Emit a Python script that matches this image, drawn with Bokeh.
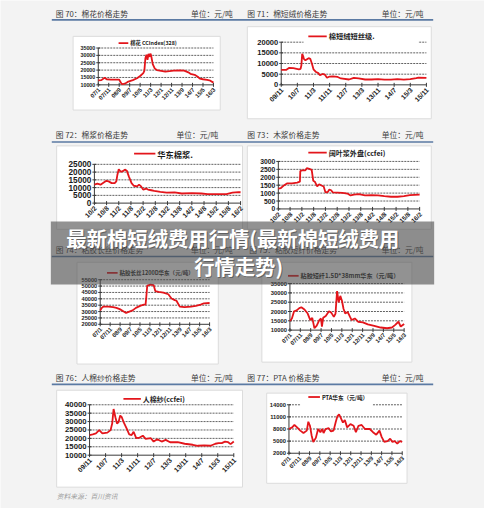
import numpy as np
from bokeh.plotting import figure
from bokeh.models import Range1d
from bokeh.core.properties import value
from bokeh.embed import file_html
from bokeh.resources import INLINE

FONT = "Liberation Sans"
CJK = "Noto Sans CJK SC"
RED = "#e3151b"
AX = "#3a3a3a"
K = 0.968  # font scale (figure 484px shows a 500px-wide page)

# ---------------- tick labels ----------------
labels_a = ["07/1", "07/11", "08/9", "09/7", "10/5", "11/3", "12/1", "12/11", "13/9", "14/7", "15/5", "16/3"]
months_a = [0, 10, 20, 30, 40, 50, 60, 70, 80, 90, 100, 110]
labels_b = ["09/11", "10/7", "11/3", "11/11", "12/7", "13/3", "13/11", "14/7", "15/3", "15/11"]
months_b = [0, 8, 16, 24, 32, 40, 48, 56, 64, 72]
labels_c = ["10/2", "10/8", "11/2", "11/8", "12/2", "12/8", "13/2", "13/8", "14/2", "14/8", "15/2", "15/8", "16/2"]
months_c = [0, 6, 12, 18, 24, 30, 36, 42, 48, 54, 60, 66, 72]

# ---------------- series ----------------
c70_m = [0, 3, 6, 8, 12, 18, 20, 22, 23, 26, 28, 33, 37, 40, 43, 44, 45, 46, 47, 48, 49, 50, 51, 52, 54, 56, 60, 64, 68, 72,
         78, 82, 86, 88, 92, 95, 97, 100, 104, 107, 110]
c70_v = [13000, 13200, 14800, 13800, 13600, 13600, 13500, 11000, 10400, 11000, 12000, 13200, 14500, 16000, 18000, 19500,
         28000, 30500, 27000, 31000, 29000, 31200, 28000, 24000, 21000, 20000, 19500, 19000, 19300, 19700, 19800, 19700,
         18500, 17500, 16800, 15500, 14200, 13800, 13300, 12800, 11500]
c70_yt = [10000, 15000, 20000, 25000, 30000, 35000]

c71_m = [0, 2.4, 4, 6, 8.8, 9.6, 10, 10.4, 10.9, 11.2, 12, 12.8, 13.6, 14.4, 15.2, 16, 17.3, 18.4, 19.2, 20.5, 21.6, 22.7,
         24, 25.6, 28, 29.6, 33.6, 36, 38.4, 41.6, 44.8, 48, 51.2, 54.4, 57.6, 60.8, 64, 67, 68, 72]
c71_v = [7000, 7000, 8000, 7800, 7300, 7500, 9200, 14500, 13400, 12200, 11500, 12000, 12500, 12200, 10000, 7300, 6000,
         5500, 4500, 5100, 4800, 3300, 3900, 4000, 3700, 3000, 2500, 3300, 3000, 2500, 2500, 2700, 2400, 2400, 2700, 2400,
         2700, 3100, 3400, 3300]
c71_yt = [0, 5000, 10000, 15000, 20000]

c72_m = [0, 1.5, 3, 4.6, 5.9, 7, 8.5, 10, 10.8, 11.3, 12, 13, 14, 15, 16, 17, 18.3, 19.4, 21, 22, 23, 24, 25.6, 26.4, 28,
         29.5, 32.5, 35.6, 39.5, 43, 48, 52.7, 55.8, 60.5, 65, 68, 71, 72]
c72_v = [11900, 12500, 11900, 13300, 14400, 14000, 12900, 12900, 14000, 18100, 21800, 20200, 20600, 21600, 20800, 17100,
         12900, 11200, 10800, 11900, 10800, 8700, 9400, 8700, 8300, 7900, 7300, 6700, 6900, 6200, 6400, 6200, 5800, 5800,
         5800, 6700, 7100, 7000]
c72_yt = [0, 5000, 10000, 15000, 20000, 25000]

c73_m = [0, 1.3, 2.6, 4.6, 7, 9.6, 11, 11.2, 12, 13.7, 14.5, 15.8, 17, 17.8, 18.6, 19.8, 20.8, 22, 23.1, 24, 25.2, 26,
         26.9, 27.7, 30.2, 32.7, 35.2, 36.8, 38.5, 41, 44.2, 47.5, 50.8, 54, 57.4, 60.7, 64, 67, 72]
c73_v = [1280, 1320, 1460, 1620, 1620, 1660, 1720, 2390, 2430, 2430, 2570, 2530, 2470, 1780, 1720, 1420, 1560, 1480, 1420,
         1050, 1070, 1220, 1180, 1050, 1030, 1010, 970, 850, 910, 930, 850, 870, 850, 810, 770, 770, 810, 870, 910]
c73_yt = [0, 500, 1000, 1500, 2000, 2500, 3000]

c74_m = [0, 1.6, 3.3, 8.2, 13, 16.3, 19.6, 22.8, 26, 29.3, 32.6, 35.9, 40.7, 44, 45.6, 46.3, 47.3, 50.5, 53.8, 55.4, 58.7,
         63.6, 68.5, 71.7, 75, 76.7, 80, 84.8, 91.3, 96.2, 101, 104.3, 110]
c74_v = [30900, 32900, 33900, 33900, 33400, 32900, 31900, 30400, 28900, 29900, 30900, 32900, 34700, 35500, 35500, 41000,
         50400, 51200, 50700, 46100, 45400, 44900, 43600, 40300, 39000, 38500, 33900, 33400, 33900, 34500, 35500, 36500,
         36700]
c74_yt = [20000, 25000, 30000, 35000, 40000, 45000, 50000, 55000]

c75_m = [0, 1.9, 4, 6.5, 9, 11, 14, 17.1, 19.6, 21.5, 23.6, 25.8, 28.3, 29.9, 30.8, 32, 34.5, 37.6, 39.8, 42.3, 43.9, 45.4,
         47, 48.5, 50.1, 51.6, 53.2, 55.7, 57.9, 59.4, 62.5, 65.6, 70.3, 75, 81.2, 87.4, 93.6, 98.3, 101.4, 104.5, 106.7, 110]
c75_v = [14900, 16250, 20100, 20600, 21800, 22300, 21100, 18900, 15400, 16600, 11000, 12400, 15400, 16250, 11900, 16600,
         17600, 20100, 19400, 17100, 18900, 31000, 24900, 28400, 25800, 21500, 18900, 19700, 17100, 15400, 16250, 14500,
         14200, 13100, 12300, 11400, 11000, 11400, 12800, 14500, 11900, 13300]
c75_yt = [10000, 15000, 20000, 25000, 30000, 35000]

c76_m = [0, 1.6, 3.2, 4.8, 6.4, 8.9, 10.5, 11.3, 12, 12.9, 13.7, 14.5, 15.3, 16.1, 17, 18.5, 19.8, 21, 22, 23.3, 25, 26.6,
         28, 30.6, 32, 33.8, 36, 38, 40.2, 44, 47.5, 51.5, 54, 57.2, 60.4, 62.8, 64.4, 66, 67.6, 69.2, 70.4, 72]
c76_v = [22000, 22400, 23000, 24900, 23000, 23400, 24900, 28800, 37500, 32600, 28800, 29700, 33600, 32600, 29700, 25900,
         22400, 22000, 23900, 20100, 20500, 21600, 19700, 20100, 18100, 19500, 18100, 19100, 17700, 17700, 16800, 16200,
         15600, 15800, 15600, 16800, 17200, 17200, 18100, 17700, 16600, 18100]
c76_yt = [10000, 15000, 20000, 25000, 30000, 35000, 40000]

c77_m = [0, 3.1, 5.3, 7.9, 11, 14.1, 17.3, 18.8, 20.4, 22, 23.6, 26.1, 28.3, 30.5, 32.3, 33.6, 35.5, 38.6, 40.8, 43.3,
         45.5, 47.1, 48.7, 50.2, 52.4, 54.3, 56.5, 59.7, 62.8, 65, 67.5, 70.6, 73.8, 78.5, 81.6, 84.8, 87.9, 90.1, 92.6,
         95.8, 98.3, 100.5, 102.7, 105.2, 107.7, 110]
c77_v = [8000, 8400, 9000, 8400, 7600, 7000, 7600, 9800, 8800, 6400, 4800, 5800, 8000, 7200, 8000, 7000, 8000, 8200, 7400,
         7600, 9800, 11200, 11600, 10800, 9600, 10200, 8400, 9200, 8800, 7200, 8800, 9000, 8000, 8000, 7200, 6600, 7600,
         6000, 4800, 5000, 5600, 4800, 5000, 4400, 5000, 4800]
c77_yt = [2000, 5000, 8000, 11000, 14000]

headers = [
    ("图 70：棉花价格走势", 57, 13), ("图 71：棉短绒价格走势", 255, 13),
    ("图 72：棉浆价格走势", 57, 138), ("图 73：木浆价格走势", 255, 138),
    ("图 74：粘胶长丝价格走势", 57, 257), ("图 75：粘胶短纤价格走势", 257, 257),
    ("图 76：人棉纱价格走势", 57, 389), ("图 77：PTA 价格走势", 255, 389),
]
units = [(240, 13), (437, 13), (225, 138), (437, 138), (240, 257), (437, 257), (240, 389), (437, 389)]
rule_y = [20, 146, 264, 396]


def px(v):
    return f"{v * K:.2f}px"


# ---------------- canvas (page coordinates of the 500x524 sheet) ----------------
p = figure(width=484, height=508, x_range=Range1d(0, 500), y_range=Range1d(524, 0),
           output_backend="svg", toolbar_location=None, min_border=0,
           x_axis_location=None, y_axis_location=None)
p.grid.visible = False
p.outline_line_color = None
p.background_fill_color = "#f3f3f3"
p.border_fill_color = "#f3f3f3"

# chart boxes
boxes = [(75, 227, 37, 113), (255, 445, 27, 122), (58, 250, 150, 236), (255, 445, 150, 236),
         (79, 225, 270, 375), (270, 425, 270, 373), (58, 250, 402, 502), (275, 420, 405, 498)]
p.quad(left=[b[0] for b in boxes], right=[b[1] for b in boxes], top=[b[2] for b in boxes],
       bottom=[b[3] for b in boxes], fill_color="white", line_color="#dcdcdc", line_width=1)

# headers
p.text(x=[h[1] for h in headers], y=[h[2] for h in headers], text=[h[0] for h in headers],
       text_font=value(CJK), text_font_size=px(8), text_baseline="middle", text_color="#3c3c3c")
p.text(x=[u[0] for u in units], y=[u[1] for u in units], text=["单位：元/吨"] * 8,
       text_font=value(CJK), text_font_size=px(8), text_baseline="middle", text_align="right", text_color="#3c3c3c")
p.segment(x0=[53] * 4, y0=rule_y, x1=[447] * 4, y1=rule_y, line_color="#5b7aa3", line_width=1.6)


def panel(mx, vals, tx, tlab, yt, area, fs, xfs, leg, mask=None):
    l, r, t, b = area
    xlo, xhi = tx[0], tx[-1]
    ylo, yhi = yt[0], yt[-1]
    s = p.subplot(x_source=Range1d(xlo, xhi), y_source=Range1d(ylo, yhi),
                  x_target=Range1d(l, r), y_target=Range1d(b, t))
    n = len(yt)
    s.segment(x0=[xlo] * (n - 1), y0=yt[1:], x1=[xhi] * (n - 1), y1=yt[1:],
              line_color=AX, line_dash="2 1", line_width=0.8)
    if mask is not None:
        p.quad(left=[mask[0]], right=[mask[1]], top=[mask[2]], bottom=[mask[3]],
               fill_color="white", line_color=None)
    s.segment(x0=[xlo, xlo], y0=[ylo, ylo], x1=[xlo, xhi], y1=[yhi, ylo], line_color=AX, line_width=1)
    s.scatter(x=[xlo] * n, y=yt, marker="dash", size=4, line_color=AX)
    s.scatter(x=tx, y=[ylo] * len(tx), marker="dash", angle=np.pi / 2, size=4, line_color=AX)
    s.text(x=[xlo] * n, y=yt, text=[str(v) for v in yt], x_offset=-3, text_align="right",
           text_baseline="middle", text_font=value(FONT), text_font_size=px(fs),
           text_font_style="bold", text_color="#1a1a1a")
    s.text(x=tx, y=[ylo] * len(tx), text=tlab, angle=np.pi / 4, x_offset=1, y_offset=4,
           text_align="right", text_baseline="middle", text_font=value(FONT),
           text_font_size=px(xfs), text_font_style="bold", text_color="#1a1a1a")
    s.line(mx, vals, line_color=RED, line_width=1.8)
    lx0, lx1, ly, ltxt, lfs = leg
    p.segment(x0=[lx0], y0=[ly], x1=[lx1], y1=[ly], line_color=RED, line_width=1.8)
    p.text(x=[lx1 + 2], y=[ly], text=[ltxt], text_font=value(CJK), text_font_size=px(lfs),
           text_baseline="middle", text_font_style="bold", text_color="#1a1a1a")


panel(c70_m, c70_v, months_a, labels_a, c70_yt, (101, 220, 49, 87), 5.5, 6,
      (122, 132, 44, "棉花 CCIndex(328)", 5.5))
panel(c71_m, c71_v, months_b, labels_b, c71_yt, (290, 440, 43, 87), 7.8, 7,
      (318, 337, 37, "棉短绒短丝级.", 7.5), mask=(313, 432, 40, 46))
panel(c72_m, c72_v, months_c, labels_c, c72_yt, (97, 248, 169, 209), 8.5, 7,
      (138, 160, 158, "华东棉浆.", 8.5))
panel(c73_m, c73_v, months_c, labels_c, c73_yt, (287, 433, 166, 215), 7, 6.5,
      (318, 337, 157, "阔叶浆外盘(ccfei)", 7.3))
panel(c74_m, c74_v, months_a, labels_a, c74_yt, (103, 216, 288, 334), 5.8, 6,
      (110, 121, 281, "粘胶长丝1200D华东（元/吨）", 5.7))
panel(c75_m, c75_v, months_a, labels_a, c75_yt, (299, 417, 292, 340), 6, 6,
      (297, 308, 284, "粘胶短纤1.5D*38mm华东（元/吨）", 6.3))
panel(c76_m, c76_v, months_b, labels_b, c76_yt, (92, 241, 417, 469), 8, 7,
      (127, 145, 411, "人棉纱(ccfei)", 7.2))
panel(c77_m, c77_v, months_a, labels_a, c77_yt, (298, 415, 417, 467), 6, 6,
      (318, 330, 409, "PTA华东（元/吨）", 5.8), mask=(310, 384, 413, 420))

# source note
p.text(x=[58], y=[511], text=["资料来源：百川资讯"], text_font=value(CJK), text_font_size=px(7),
       text_font_style="italic", text_baseline="middle", text_color="#9a9a9a")

# overlay banner
p.quad(left=[52], right=[448], top=[228], bottom=[293], fill_color="#4a4a4a", fill_alpha=0.6, line_color=None)
btxt = ["最新棉短绒费用行情(最新棉短绒费用", "行情走势)"]
bx = [240, 246]
by = [245, 274]
p.text(x=[v + 1 for v in bx], y=[v + 1 for v in by], text=btxt, text_font=value(CJK), text_font_size=px(21),
       text_font_style="bold", text_align="center", text_baseline="middle", text_color="#333333", text_alpha=0.5)
p.text(x=bx, y=by, text=btxt, text_font=value(CJK), text_font_size=px(21),
       text_font_style="bold", text_align="center", text_baseline="middle", text_color="white")

open("out.html", "w").write(file_html(p, INLINE))
